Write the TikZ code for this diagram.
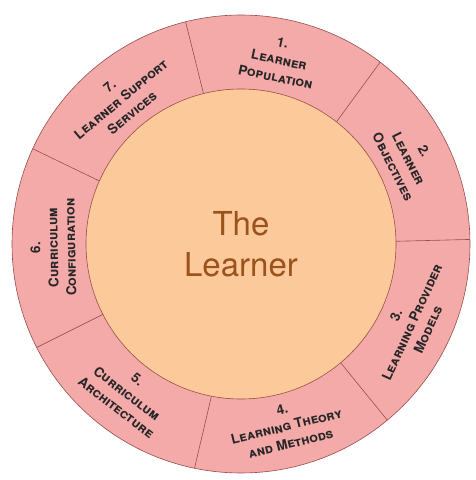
\documentclass[tikz,border=0pt]{standalone}
\usepackage{fontspec}
\setmainfont{TeX Gyre Heros}
\usepackage{tikz}
\usetikzlibrary{calc,positioning}
\usepackage{xcolor}
\definecolor{ringpink}{RGB}{245,170,170}
\definecolor{learnerpeach}{RGB}{252,202,154}
\definecolor{ringline}{RGB}{150,78,78}
\definecolor{learnerbrown}{RGB}{155,82,28}

\begin{document}
\begin{tikzpicture}[x=1pt,y=1pt,
  seglabel/.style={align=center,text=black!85,font=\fontsize{13.5}{17.5}\selectfont\bfseries}]
 \useasboundingbox (0,0) rectangle (475,480);
 \coordinate (c) at (241,236);
 \fill[ringpink] (c) circle (229);
 \draw[ringline,line width=0.6pt] (c) circle (229);
 \node[circle,minimum size=310pt,inner sep=0pt,fill=learnerpeach,draw=ringline!80!learnerbrown,line width=0.6pt,
       text=learnerbrown,align=center,font=\fontsize{33}{41}\selectfont] (learner) at (c) {The\\Learner};
 \foreach \k in {0,...,6}
   \draw[ringline,line width=0.6pt] (learner.{104-\k*360/7}) -- ($(c)+({104-\k*360/7}:229)$);
 \node[seglabel,rotate=-11.7] (population) at ($(c)+(78.3:188)$) {1.\\\textsc{Learner}\\\textsc{Population}};
 \node[seglabel,rotate=-63.1] (objectives) at ($(c)+(26.9:188)$) {2.\\\textsc{Learner}\\\textsc{Objectives}};
 \node[seglabel,rotate=65.4] (provider) at ($(c)+(-24.6:188)$) {3.\\\textsc{Learning Provider}\\\textsc{Models}};
 \node[seglabel,rotate=14] (theory) at ($(c)+(-76:188)$) {4.\\\textsc{Learning Theory}\\\textsc{and Methods}};
 \node[seglabel,rotate=-37.4] (architecture) at ($(c)+(-127.4:188)$) {5.\\\textsc{Curriculum}\\\textsc{Architecture}};
 \node[seglabel,rotate=91.1] (configuration) at ($(c)+(-178.9:188)$) {6.\\\textsc{Curriculum}\\\textsc{Configuration}};
 \node[seglabel,rotate=39.7] (support) at ($(c)+(129.7:188)$) {7.\\\textsc{Learner Support}\\\textsc{Services}};
\end{tikzpicture}
\end{document}
